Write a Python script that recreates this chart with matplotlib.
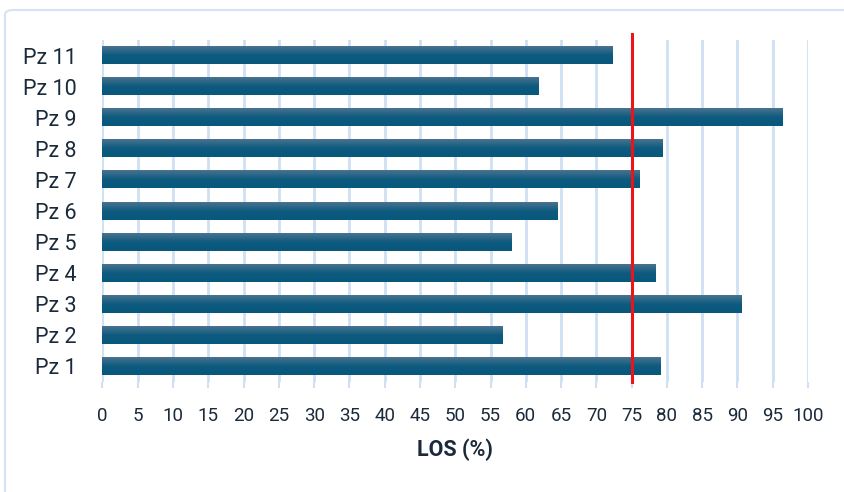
import matplotlib
matplotlib.use("Agg")
import matplotlib.pyplot as plt
import numpy as np
from matplotlib.patches import FancyBboxPatch
from matplotlib.colors import LinearSegmentedColormap

categories = ["Pz 1", "Pz 2", "Pz 3", "Pz 4", "Pz 5", "Pz 6", "Pz 7", "Pz 8", "Pz 9", "Pz 10", "Pz 11"]
los_values = [79.2, 56.8, 90.7, 78.4, 58.0, 64.6, 76.2, 79.5, 96.5, 61.9, 72.4]
threshold = 75
xticks = list(range(0, 101, 5))

plt.rcParams['font.family'] = ['Roboto', 'DejaVu Sans']
text_color = "#1b2a3a"
grid_color = "#cfe0f3"

fig = plt.figure(figsize=(8.45, 4.92), dpi=100)
ax = fig.add_axes([102.5/845, 1 - 382/492, (808-102.5)/845, (382-40)/492])

y = np.arange(len(categories))
bar_h = 0.55
bars = ax.barh(y, los_values, height=bar_h, color="#0f5b7f", zorder=2)

grad = np.linspace(0, 1, 64).reshape(-1, 1)
cmap = LinearSegmentedColormap.from_list("g", ["#08577c", "#0d5b7f", "#4a7390"])
for b in bars:
    x0, y0 = b.get_x(), b.get_y()
    w, h = b.get_width(), b.get_height()
    ax.imshow(grad, cmap=cmap, aspect="auto", extent=(x0, x0 + w, y0, y0 + h),
              origin="lower", zorder=2.1, interpolation="bicubic")

ax.set_xlim(0, 100)
ax.set_ylim(-0.5, len(categories) - 0.5)
ax.set_xticks(xticks)
ax.set_xticklabels([str(t) for t in xticks])
ax.set_yticks(y)
ax.set_yticklabels(categories)

ax.xaxis.grid(True, color=grid_color, linewidth=2, zorder=0)
ax.set_axisbelow(True)
for s in ax.spines.values():
    s.set_visible(False)

ax.tick_params(axis="x", length=4, color=grid_color, width=1.5, labelsize=13.5, labelcolor=text_color, pad=14)
ax.tick_params(axis="y", length=0, labelsize=15.5, labelcolor=text_color, pad=18.5)

ax.axvline(threshold, ymin=0, ymax=1.018, color="#e8151b", linewidth=2.2, zorder=3, clip_on=False)

ax.set_xlabel("LOS (%)", fontsize=15.5, fontweight="bold", color=text_color, labelpad=10)

border = FancyBboxPatch((5/845, -0.1), 1.2, 1 - 10/492 + 0.1,
                        boxstyle="round,pad=0,rounding_size=0.01",
                        transform=fig.transFigure, fill=False,
                        edgecolor="#d4e3f3", linewidth=1.5, clip_on=False)
fig.patches.append(border)

fig.savefig("out.png", dpi=100)
